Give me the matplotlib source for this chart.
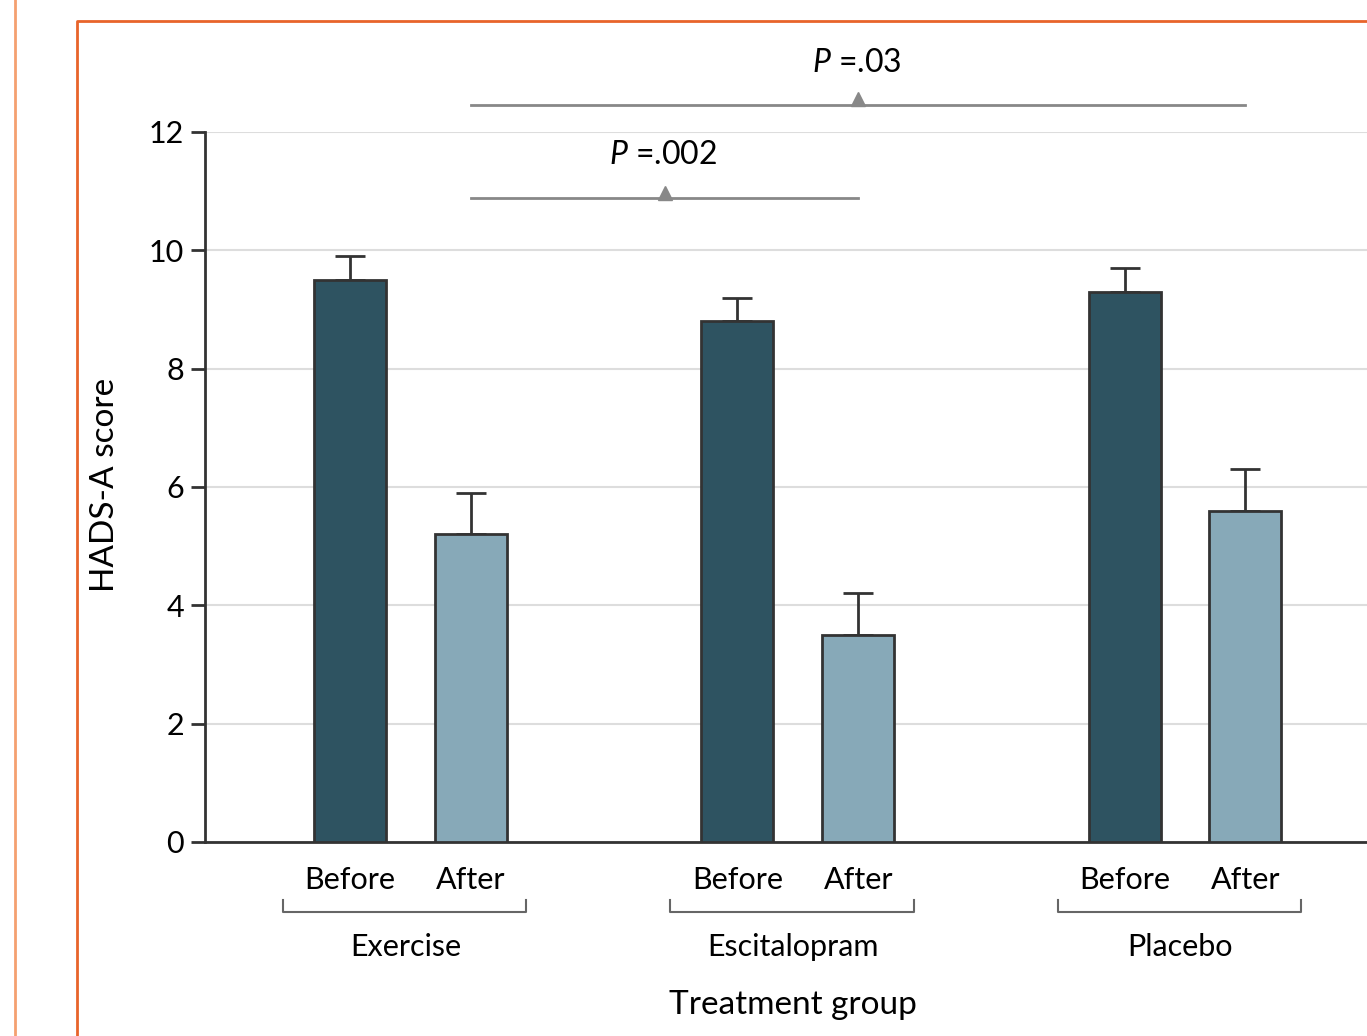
import numpy as np
import matplotlib.pyplot as plt
from matplotlib.lines import Line2D

plt.rcParams['font.family'] = ['Lato', 'DejaVu Sans']
plt.rcParams['mathtext.fontset'] = 'custom'
plt.rcParams['mathtext.it'] = 'Lato:italic'
plt.rcParams['mathtext.rm'] = 'Lato'

# HADS-A means and standard errors, before/after per treatment group
groups = ['Exercise', 'Escitalopram', 'Placebo']
phases = ['Before', 'After']
before_mean = [9.5, 8.8, 9.3]
after_mean = [5.2, 3.5, 5.6]
before_err = [0.4, 0.4, 0.4]
after_err = [0.7, 0.7, 0.7]
p_labels = ['.002', '.03']

dark = '#2e5361'
light = '#87a9b8'
edge = '#333333'

fig = plt.figure(figsize=(13.67, 10.36), dpi=100)
ax = fig.add_axes([0.150, 0.1873, 0.850, 0.6853])

x = np.arange(len(groups))
off = 0.156
w = 0.186
ax.bar(x - off, before_mean, w, color=dark, edgecolor=edge, linewidth=2, zorder=3)
ax.bar(x + off, after_mean, w, color=light, edgecolor=edge, linewidth=2, zorder=3)
ax.errorbar(x - off, before_mean, yerr=[[0] * 3, before_err], fmt='none',
            ecolor=edge, elinewidth=2, capsize=11, capthick=2, zorder=2)
ax.errorbar(x + off, after_mean, yerr=[[0] * 3, after_err], fmt='none',
            ecolor=edge, elinewidth=2, capsize=11, capthick=2, zorder=2)

ax.set_xlim(-0.531, 2.47)
ax.set_ylim(0, 12)
ax.set_yticks(range(0, 13, 2))
ax.tick_params(axis='y', labelsize=22, length=10, width=2, color=edge, pad=5)
ax.tick_params(axis='x', bottom=False, labelbottom=False)
ax.grid(axis='y', color='#dddddd', linewidth=1.5, zorder=0)
for s in ['top', 'right']:
    ax.spines[s].set_visible(False)
for s in ['left', 'bottom']:
    ax.spines[s].set_linewidth(2)
    ax.spines[s].set_color(edge)

# x labels and brackets under each group
for i, g in enumerate(groups):
    ax.text(i - off, -0.64, phases[0], ha='center', va='center', fontsize=22, clip_on=False)
    ax.text(i + off, -0.64, phases[1], ha='center', va='center', fontsize=22, clip_on=False)
    x0, x1 = i - off - w / 2 - 0.08, i + off + w / 2 + 0.05
    ax.plot([x0, x0, x1, x1], [-0.98, -1.18, -1.18, -0.98], color='#666666', lw=1.5, clip_on=False)
    ax.text(i - 0.013, -1.77, g, ha='center', va='center', fontsize=22, clip_on=False)
ax.text(0.987, -2.75, 'Treatment group', ha='center', va='center', fontsize=24, clip_on=False)
fig.text(0.077, 0.532, 'HADS-A score', rotation=90, ha='center', va='center', fontsize=24)

# significance lines
sig = [(0, 1, 10.88, 11.61), (0, 2, 12.46, 13.17)]
for (a, b, yl, yt), p in zip(sig, p_labels):
    xa, xb = a + off, b + off
    ax.plot([xa, xb], [yl, yl], color='#888888', lw=2, clip_on=False)
    ax.plot([(xa + xb) / 2], [yl + 0.09], marker='^', ms=10, color='#888888', clip_on=False)
    ax.text((xa + xb) / 2 - 0.005, yt, '$P$ =' + p, ha='center', va='center', fontsize=23,
            clip_on=False)

# orange frame lines
fig.add_artist(Line2D([15 / 1367, 15 / 1367], [0, 1], color='#f4a070', lw=2))
fig.add_artist(Line2D([77 / 1367, 77 / 1367, 1], [0, 1 - 21 / 1036, 1 - 21 / 1036],
                      color='#e8642a', lw=2))

fig.savefig('out.png', dpi=100)
